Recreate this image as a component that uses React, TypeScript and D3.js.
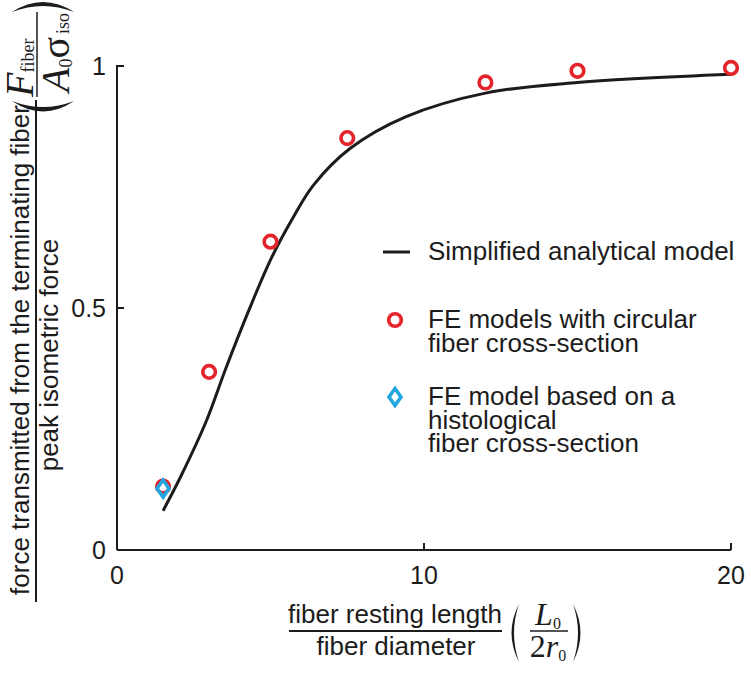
import React from 'react';
import * as d3 from 'd3';

// Simplified analytical model
const modelX = [1.5, 2.1, 2.9, 3.55, 4.3, 5.05, 5.7, 6.4, 7.6, 9.4, 12, 15, 20];
const modelY = [0.081, 0.155, 0.265, 0.376, 0.496, 0.606, 0.683, 0.754, 0.83, 0.895, 0.944, 0.966, 0.983];
// FE models with circular fiber cross-section
const feX = [1.5, 3, 5, 7.5, 12, 15, 20];
const feY = [0.131, 0.368, 0.637, 0.851, 0.966, 0.99, 0.996];
// FE model based on a histological fiber cross-section
const histX = [1.5];
const histY = [0.127];

const xTicks = [0, 10, 20];
const yTicks = [0, 0.5, 1];
const yTickLabels = ['0', '0.5', '1'];

const legendModel = ['Simplified analytical model'];
const legendFE = ['FE models with circular', 'fiber cross-section'];
const legendHist = ['FE model based on a', 'histological', 'fiber cross-section'];

const RED = '#e4232b';
const BLUE = '#21a6df';
const INK = '#1c1c1c';
const SANS = '"Liberation Sans", Arial, Helvetica, sans-serif';
const SERIF = '"Liberation Serif", "Times New Roman", serif';

export default function App() {
  const W = 751, H = 674;
  const x = d3.scaleLinear().domain([0, 20]).range([117, 731]);
  const y = d3.scaleLinear().domain([0, 1]).range([550, 66]);

  const line = d3
    .line<number>()
    .x((_, i) => x(modelX[i]))
    .y((d) => y(d))
    .curve(d3.curveCatmullRom.alpha(0.5));

  const diamond = (cx: number, cy: number, hw: number, hh: number) =>
    `M${cx},${cy - hh}L${cx + hw},${cy}L${cx},${cy + hh}L${cx - hw},${cy}Z`;

  const tickLen = 7;

  return (
    <svg
      width={W}
      height={H}
      viewBox={`0 0 ${W} ${H}`}
      style={{ position: 'absolute', left: 0, top: 0, background: '#fff' }}
    >
      <rect width={W} height={H} fill="#fff" />
      {/* axes */}
      <g stroke={INK} strokeWidth={2} fill="none">
        <line x1={x(0)} y1={y(1) - 1} x2={x(0)} y2={y(0)} />
        <line x1={x(0)} y1={y(0)} x2={x(20)} y2={y(0)} />
        {yTicks.map((t) => (
          <line key={'yt' + t} x1={x(0)} x2={x(0) + tickLen} y1={y(t)} y2={y(t)} />
        ))}
        {xTicks.map((t) => (
          <line key={'xt' + t} x1={x(t)} x2={x(t)} y1={y(0)} y2={y(0) - tickLen} />
        ))}
      </g>
      <g fontFamily={SANS} fontSize={25} fill={INK}>
        {yTicks.map((t, i) => (
          <text key={'yl' + t} x={x(0) - 11} y={y(t) + 9} textAnchor="end">
            {yTickLabels[i]}
          </text>
        ))}
        {xTicks.map((t) => (
          <text key={'xl' + t} x={x(t)} y={584} textAnchor="middle">
            {t}
          </text>
        ))}
      </g>

      {/* model curve */}
      <path d={line(modelY) || ''} fill="none" stroke={INK} strokeWidth={3} />

      {/* FE circles */}
      {feX.map((v, i) => (
        <circle key={'fe' + i} cx={x(v)} cy={y(feY[i])} r={6.3} fill="none" stroke={RED} strokeWidth={3.6} />
      ))}
      {/* histological diamond */}
      {histX.map((v, i) => (
        <path key={'h' + i} d={diamond(x(v), y(histY[i]), 6, 8.5)} fill="none" stroke={BLUE} strokeWidth={3.6} />
      ))}

      {/* legend */}
      <g fontFamily={SANS} fontSize={26} fill={INK}>
        <line x1={383} x2={410} y1={252} y2={252} stroke={INK} strokeWidth={3} />
        <text x={428} y={260}>{legendModel[0]}</text>
        <circle cx={395} cy={320} r={6.3} fill="none" stroke={RED} strokeWidth={3.6} />
        {legendFE.map((s, i) => (
          <text key={'lf' + i} x={428} y={328 + i * 23.5}>{s}</text>
        ))}
        <path d={diamond(395, 397, 6, 8.5)} fill="none" stroke={BLUE} strokeWidth={3.6} />
        {legendHist.map((s, i) => (
          <text key={'lh' + i} x={428} y={405 + i * 23.5}>{s}</text>
        ))}
      </g>

      {/* x label */}
      <g fill={INK}>
        <text x={395} y={623} fontFamily={SANS} fontSize={26} textAnchor="middle">fiber resting length</text>
        <line x1={289} x2={502} y1={631} y2={631} stroke={INK} strokeWidth={2} />
        <text x={396} y={655} fontFamily={SANS} fontSize={26} textAnchor="middle">fiber diameter</text>
        <path d="M519,604 Q504,633 519,662 Q509,633 519,604 Z" />
        <text x={548} y={625} fontFamily={SERIF} fontSize={32} textAnchor="middle">
          <tspan fontStyle="italic">L</tspan>
          <tspan fontSize={16} dy={4}>0</tspan>
        </text>
        <line x1={530} x2={568} y1={631} y2={631} stroke={INK} strokeWidth={1.5} />
        <text x={548} y={657} fontFamily={SERIF} fontSize={32} textAnchor="middle">
          <tspan>2</tspan>
          <tspan fontStyle="italic">r</tspan>
          <tspan fontSize={16} dy={4}>0</tspan>
        </text>
        <path d="M573,604 Q588,633 573,662 Q583,633 573,604 Z" />
      </g>

      {/* y label */}
      <g fill={INK}>
        <text transform="translate(29,350) rotate(-90)" fontFamily={SANS} fontSize={26} textAnchor="middle">
          force transmitted from the terminating fiber
        </text>
        <line x1={36} x2={36} y1={100} y2={602} stroke={INK} strokeWidth={2} />
        <text transform="translate(58,355) rotate(-90)" fontFamily={SANS} fontSize={26} textAnchor="middle">
          peak isometric force
        </text>
        {/* parenthetical fraction */}
        <path d="M12,101 Q43,122 74,101 Q43,113 12,101 Z" />
        <text transform="translate(33,97) rotate(-90)" fontFamily={SERIF} fontSize={40}>
          <tspan fontStyle="italic">F</tspan>
          <tspan fontSize={18} dy={1}>fiber</tspan>
        </text>
        <line x1={37} x2={37} y1={12} y2={97} stroke={INK} strokeWidth={1.5} />
        <text transform="translate(69,92) rotate(-90)" fontFamily={SERIF} fontSize={40}>
          <tspan fontStyle="italic">A</tspan>
          <tspan fontSize={18} dy={3}>0</tspan>
          <tspan dy={-3}>σ</tspan>
          <tspan fontSize={18} dx={3}>iso</tspan>
        </text>
        <path d="M12,12 Q43,-8 74,12 Q43,0 12,12 Z" />
      </g>
    </svg>
  );
}
